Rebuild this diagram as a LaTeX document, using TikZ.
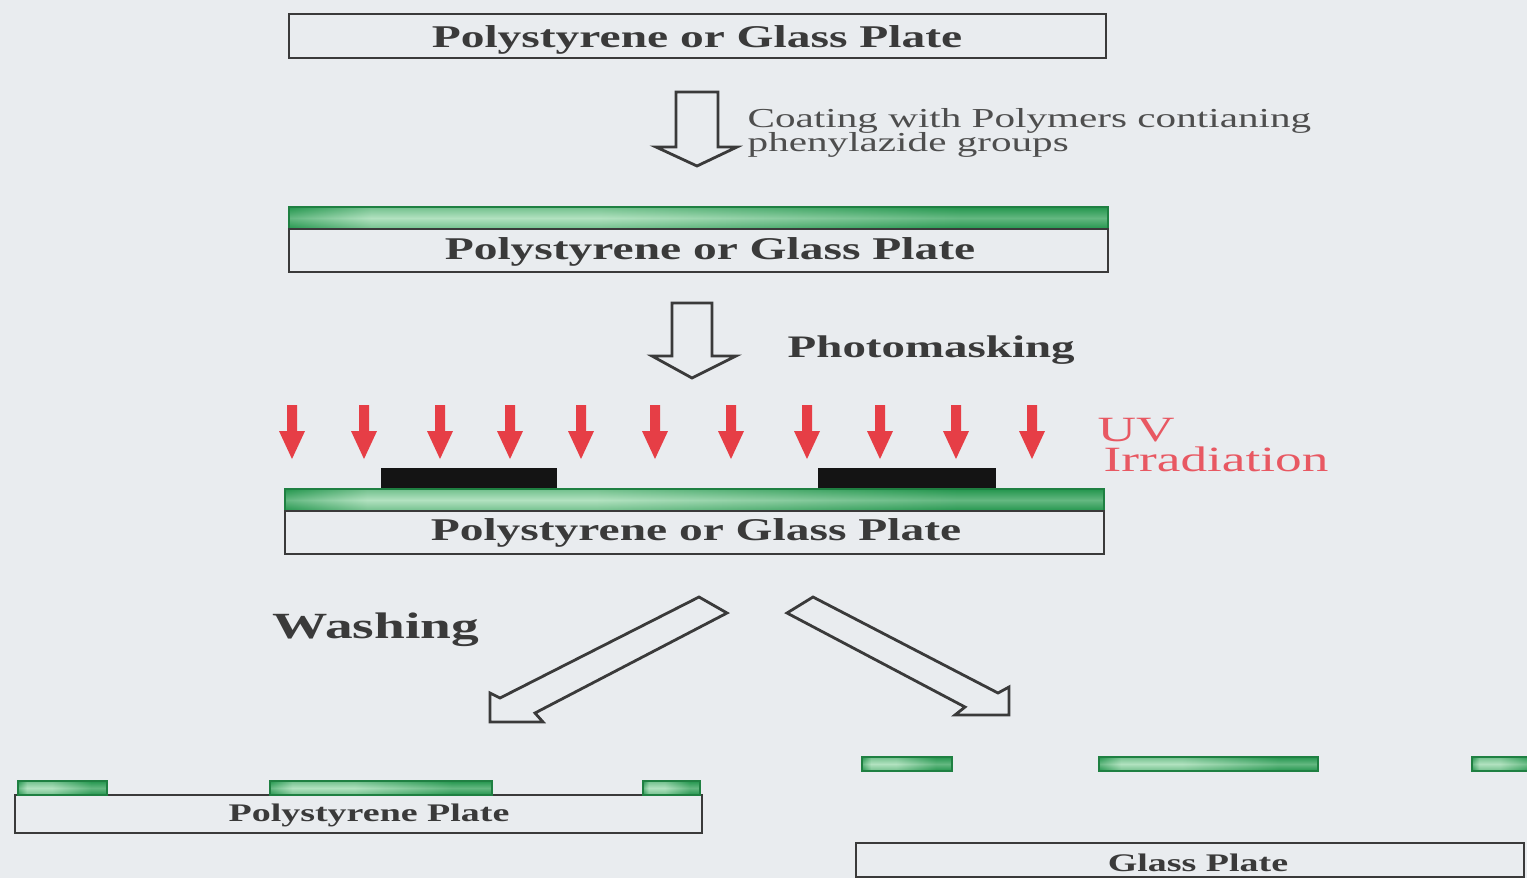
\documentclass[tikz,border=0pt]{standalone}
\usepackage{fontspec}
\setmainfont{Liberation Serif}[FakeStretch=1.5]
\usepackage{tikz}

\definecolor{paper}{RGB}{233,236,239}
\definecolor{ink}{RGB}{58,58,58}
\definecolor{filmdark}{RGB}{36,150,78}
\definecolor{filmlight}{RGB}{178,226,192}
\definecolor{uvred}{RGB}{230,62,70}
\definecolor{uvtext}{RGB}{232,88,98}
\pgfdeclarehorizontalshading{film}{100bp}{color(0bp)=(filmdark); color(25bp)=(filmdark);
 color(30bp)=(filmlight); color(44bp)=(filmlight); color(66bp)=(filmdark); color(100bp)=(filmdark)}
\newcommand\tightlines{\lineskiplimit=-10pt\relax}

\tikzset{
 plate/.style={draw=ink,line width=0.8pt},
 filmedge/.style={draw=filmdark!85!black,line width=0.5pt},
 filmtop/.style={top color=filmdark,bottom color=filmdark,middle color=filmlight,opacity=0.45},
 hollow/.style={draw=ink,line width=0.8pt,fill=paper,line join=miter},
 platelabel/.style={inner sep=0pt,text=ink,font=\fontsize{9}{10}\selectfont\bfseries},
 smalllabel/.style={inner sep=0pt,text=ink,font=\fontsize{7.2}{8}\selectfont\bfseries}
}

\begin{document}
\begin{tikzpicture}[x=0.01cm,y=-0.01cm]
\fill[paper] (0,0) rectangle (1527,878);
\useasboundingbox (0,0) rectangle (1527,878);
\clip (0,0) rectangle (1527,878);

% starting plate
\draw[plate] (289,14) rectangle (1106,58);
\node[platelabel] (plateA) at (697,40) {Polystyrene or Glass Plate};

\draw[hollow] (676,92) -- (718,92) -- (718,147) -- (737,147) -- (697,166)
 -- (656,147) -- (676,147) -- cycle;
\node[inner sep=0pt,anchor=west,align=left,text=ink!90,execute at begin node=\tightlines,
 font=\fontsize{7.8}{6.6}\selectfont] (coat) at (747,133)
 {Coating with Polymers contianing\\phenylazide groups};

% coated plate
\shade[shading=film] (289,207) rectangle (1108,229);
\shade[filmtop] (289,207) rectangle (1108,229);
\draw[filmedge] (289,207) rectangle (1108,229);
\draw[plate] (289,229) rectangle (1108,272);
\node[platelabel] (plateB) at (710,252) {Polystyrene or Glass Plate};

\draw[hollow] (672,303) -- (712,303) -- (712,356) -- (736,356) -- (692,378)
 -- (652,356) -- (672,356) -- cycle;
\node[inner sep=0pt,anchor=west,text=ink,font=\fontsize{8.9}{10}\selectfont\bfseries]
 (mask) at (787,350) {Photomasking};

% UV exposure through the mask
\foreach \x in {292,364,440,510,581,655,731,807,880,956,1032}
 \fill[uvred] (\x-5,405) -- (\x+5,405) -- (\x+5,431) -- (\x+13,431) -- (\x,459)
  -- (\x-13,431) -- (\x-5,431) -- cycle;
\node[inner sep=0pt,anchor=west,align=left,text=uvtext,execute at begin node=\tightlines,
 font=\fontsize{10.1}{8.6}\selectfont] (uv) at (1097,445) {UV\\\,Irradiation};
\fill[black!92] (381,468) rectangle (557,489);
\fill[black!92] (818,468) rectangle (996,489);
\shade[shading=film] (285,489) rectangle (1104,511);
\shade[filmtop] (285,489) rectangle (1104,511);
\draw[filmedge] (285,489) rectangle (1104,511);
\draw[plate] (285,511) rectangle (1104,554);
\node[platelabel] (plateC) at (696,533) {Polystyrene or Glass Plate};

\node[inner sep=0pt,anchor=west,text=ink,font=\fontsize{10.5}{12}\selectfont\bfseries]
 (wash) at (272,630) {Washing};
\draw[hollow] (699,597) -- (727,613) -- (535,713) -- (543,722) -- (490,722)
 -- (490,693) -- (500,698) -- cycle;
\draw[hollow] (813,597) -- (787,613) -- (965,707) -- (955,715) -- (1009,715)
 -- (1009,687) -- (998,693) -- cycle;

% results
\draw[plate] (15,795) rectangle (702,833);
\foreach \a/\b in {18/107,270/492,643/700}{
 \shade[shading=film] (\a,781) rectangle (\b,795);
 \shade[filmtop] (\a,781) rectangle (\b,795);
 \draw[filmedge] (\a,781) rectangle (\b,795);
}
\node[smalllabel] (psPlate) at (369,815) {Polystyrene Plate};

\foreach \a/\b in {862/952,1099/1318,1472/1545}{
 \shade[shading=film] (\a,757) rectangle (\b,771);
 \shade[filmtop] (\a,757) rectangle (\b,771);
 \draw[filmedge] (\a,757) rectangle (\b,771);
}
\draw[plate] (856,843) rectangle (1524,877);
\node[smalllabel] (glassPlate) at (1198,863) {Glass Plate};
\end{tikzpicture}
\end{document}
